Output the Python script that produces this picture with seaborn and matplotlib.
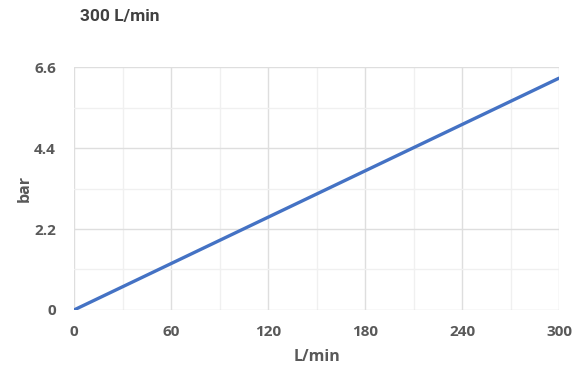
import numpy as np
import pandas as pd
import matplotlib
matplotlib.use('Agg')
import matplotlib.pyplot as plt
import seaborn as sns
from matplotlib.ticker import MultipleLocator

flow = [0, 300]
pressure = [0, 6.3]
x_ticks = [0, 60, 120, 180, 240, 300]
y_ticks = [0, 2.2, 4.4, 6.6]

df = pd.DataFrame({'L/min': flow, 'bar': pressure})

sns.set_style('white')
plt.rcParams['font.family'] = ['Open Sans', 'DejaVu Sans']

fig = plt.figure(figsize=(5.76, 3.73), dpi=100)
ax = fig.add_axes([0.1285, 0.169, 0.842, 0.651])

sns.lineplot(data=df, x='L/min', y='bar', color='#4472C4', linewidth=2.4, ax=ax)

ax.set_xlim(0, 300)
ax.set_ylim(0, 6.6)
ax.set_xticks(x_ticks)
ax.set_yticks(y_ticks)
ax.set_yticklabels(['0', '2.2', '4.4', '6.6'])
ax.xaxis.set_minor_locator(MultipleLocator(30))
ax.yaxis.set_minor_locator(MultipleLocator(1.1))
ax.grid(True, which='major', color='#dedede', linewidth=1.0)
ax.grid(True, which='minor', color='#f0f0f0', linewidth=1.0)
ax.set_axisbelow(True)
for s in ax.spines.values():
    s.set_visible(False)
ax.tick_params(which='both', length=0, colors='#595959', labelsize=11)
ax.tick_params(axis='x', pad=11)
ax.tick_params(axis='y', pad=13)
for lbl in ax.get_xticklabels() + ax.get_yticklabels():
    lbl.set_fontweight('bold')

ax.set_xlabel('L/min', fontsize=11.5, fontweight='bold', color='#595959', labelpad=7)
ax.set_ylabel('bar', fontsize=11.5, fontweight='bold', color='#595959', labelpad=1)

fig.text(0.139, 0.955, '300 L/min', fontsize=12.5, fontweight='bold', color='#404040',
         va='center', ha='left', family=['Roboto', 'DejaVu Sans'])

fig.savefig('out.png', dpi=100)
